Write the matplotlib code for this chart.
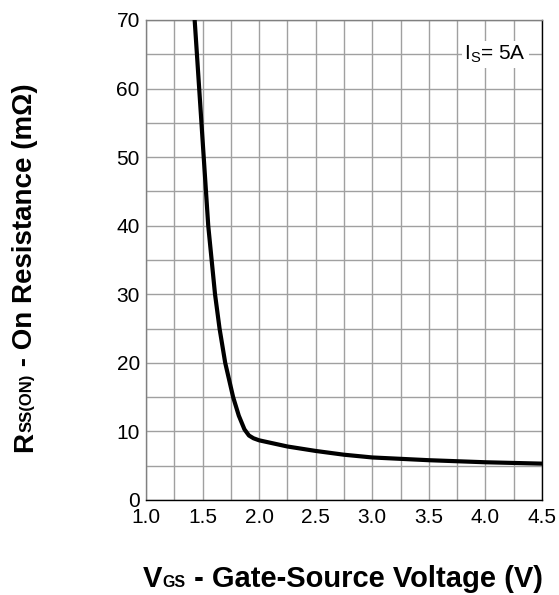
import numpy as np
import matplotlib
matplotlib.use('Agg')
import matplotlib.pyplot as plt
from matplotlib.ticker import MultipleLocator

plt.rcParams['font.family'] = ['Liberation Sans', 'DejaVu Sans']
plt.rcParams['mathtext.fontset'] = 'custom'
plt.rcParams['mathtext.rm'] = 'Liberation Sans'

# 读取的曲线数据 (VGS, RDS(on))
vgs = [1.43, 1.45, 1.47, 1.49, 1.51, 1.53, 1.55, 1.58, 1.61, 1.65, 1.70, 1.77,
       1.82, 1.87, 1.91, 1.95, 2.0, 2.25, 2.5, 2.75, 3.0, 3.25, 3.5, 3.75, 4.0, 4.25, 4.5]
rds = [70, 65, 60, 55, 50, 45, 40, 35, 30, 25, 20, 15,
       12.3, 10.3, 9.4, 9.0, 8.7, 7.8, 7.15, 6.6, 6.2, 6.0, 5.8, 5.65, 5.5, 5.4, 5.3]
xticks = [1.0, 1.5, 2.0, 2.5, 3.0, 3.5, 4.0, 4.5]
yticks = [0, 10, 20, 30, 40, 50, 60, 70]

fig = plt.figure(figsize=(5.59, 5.95), dpi=100)
ax = fig.add_axes([0.2612, 0.1597, 0.7084, 0.8067])

ax.plot(vgs, rds, color='black', lw=3, solid_joinstyle='round', zorder=3)

ax.set_xlim(1.0, 4.5)
ax.set_ylim(0, 70)
ax.set_xticks(xticks)
ax.set_xticklabels(['%.1f' % v for v in xticks])
ax.set_yticks(yticks)
ax.xaxis.set_minor_locator(MultipleLocator(0.25))
ax.yaxis.set_minor_locator(MultipleLocator(5))
ax.grid(True, which='both', color='#a0a0a0', lw=1)
ax.set_axisbelow(True)
ax.tick_params(which='both', length=0, labelsize=15)
ax.tick_params(axis='x', pad=6)
ax.tick_params(axis='y', pad=4.5)

for s in ['left', 'top']:
    ax.spines[s].set_color('#808080')
for s in ['right', 'bottom']:
    ax.spines[s].set_color('black')
for s in ax.spines.values():
    s.set_linewidth(1)

ax.text(4.086, 64.2, r'I$_\mathrm{S}$= 5A', fontsize=15, ha='center', va='baseline',
        bbox=dict(facecolor='white', edgecolor='none', pad=2), zorder=4)

# x 轴标题: V + 小号 GS + 其余文字
t1 = fig.text(143, 8.3, 'V', transform=None, fontsize=21, fontweight='bold',
              ha='left', va='baseline')
t2 = ax.annotate('GS', xy=(1.0, 8.3), xycoords=(t1, 'figure pixels'),
                 fontsize=11.5, fontweight='bold', ha='left', va='baseline')
ax.annotate(' - Gate-Source Voltage (V)', xy=(1.0, 8.3), xycoords=(t2, 'figure pixels'),
            fontsize=21, fontweight='bold', ha='left', va='baseline')

# y 轴标题: R + 小号 SS(ON) + 其余文字
r1 = ax.annotate('R', xy=(31.7, 595 - 452), xycoords='figure pixels', rotation=90,
                 rotation_mode='anchor', fontsize=20, fontweight='bold',
                 ha='left', va='baseline')
r2 = ax.annotate('SS(ON)', xy=(31.7, 1.0), xycoords=('figure pixels', r1), rotation=90,
                 rotation_mode='anchor', fontsize=12, fontweight='bold',
                 ha='left', va='baseline')
ax.annotate(' - On Resistance (mΩ)', xy=(31.7, 1.0), xycoords=('figure pixels', r2),
            rotation=90, rotation_mode='anchor', fontsize=20, fontweight='bold',
            ha='left', va='baseline')

plt.savefig('out.png', dpi=100)
